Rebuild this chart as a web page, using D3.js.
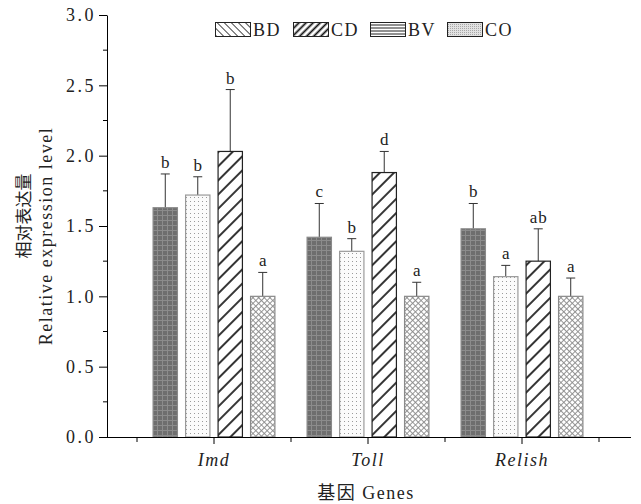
<!DOCTYPE html>
<html>
<head>
<meta charset="utf-8">
<script src="https://cdn.jsdelivr.net/npm/d3@7"></script>
<style>
  body { margin: 0; background: #fff; }
  text { font-family: "Liberation Serif", "DejaVu Serif", serif; fill: #222; }
</style>
</head>
<body>
<div id="chart"></div>
<script>
// data
var genes = ['Imd', 'Toll', 'Relish'];
var series = ['BD', 'CD', 'BV', 'CO'];
var means = [
  [1.63, 1.72, 2.03, 1.00],
  [1.42, 1.32, 1.88, 1.00],
  [1.48, 1.14, 1.25, 1.00]
];
var errs = [
  [0.24, 0.13, 0.44, 0.17],
  [0.24, 0.09, 0.15, 0.10],
  [0.18, 0.08, 0.23, 0.13]
];
var letters = [
  ['b', 'b', 'b', 'a'],
  ['c', 'b', 'd', 'a'],
  ['b', 'a', 'ab', 'a']
];
var yTicks = [0, 0.5, 1.0, 1.5, 2.0, 2.5, 3.0];

var W = 641, H = 504;
var margin = { top: 15, left: 107, right: 9, bottom: 67 };
var serif = '"Liberation Serif", "DejaVu Serif", serif';
var cjk = '"Noto Sans CJK SC", sans-serif';

var svg = d3.select('#chart').append('svg')
    .attr('width', W)
    .attr('height', H);

// ---------- patterns ----------
var defs = svg.append('defs');

function pat(id, w, h, transform) {
    var p = defs.append('pattern')
        .attr('id', id)
        .attr('patternUnits', 'userSpaceOnUse')
        .attr('width', w)
        .attr('height', h);
    if (transform) p.attr('patternTransform', transform);
    return p;
}

// bar pattern 1: dark grey with fine grid
var p1 = pat('bar1', 5, 5);
p1.append('rect').attr('width', 5).attr('height', 5).attr('fill', '#6e6e6e');
p1.append('path').attr('d', 'M0,0.5H5M0.5,0V5').attr('stroke', '#8c8c8c').attr('stroke-width', 1);

// bar pattern 2: light dots
var p2 = pat('bar2', 4, 4);
p2.append('rect').attr('width', 4).attr('height', 4).attr('fill', '#fbfbfb');
p2.append('rect').attr('x', 1).attr('y', 1).attr('width', 1).attr('height', 1).attr('fill', '#9a9a9a');

// bar pattern 3: thick diagonal lines
var p3 = pat('bar3', 10, 10, 'rotate(45)');
p3.append('rect').attr('width', 10).attr('height', 10).attr('fill', '#fff');
p3.append('line').attr('x1', 5).attr('x2', 5).attr('y1', 0).attr('y2', 10)
    .attr('stroke', '#111').attr('stroke-width', 1.7);

// bar pattern 4: light cross hatch
var p4 = pat('bar4', 4, 4, 'rotate(45)');
p4.append('rect').attr('width', 4).attr('height', 4).attr('fill', '#fff');
p4.append('path').attr('d', 'M0,0.5H4M0.5,0V4').attr('stroke', '#8a8a8a').attr('stroke-width', 0.9);

// legend patterns
var l1 = pat('leg1', 5, 5, 'rotate(-45)');
l1.append('rect').attr('width', 5).attr('height', 5).attr('fill', '#fff');
l1.append('line').attr('x1', 2.5).attr('x2', 2.5).attr('y1', 0).attr('y2', 5)
    .attr('stroke', '#333').attr('stroke-width', 0.9);

var l2 = pat('leg2', 5, 5, 'rotate(45)');
l2.append('rect').attr('width', 5).attr('height', 5).attr('fill', '#fff');
l2.append('line').attr('x1', 2.5).attr('x2', 2.5).attr('y1', 0).attr('y2', 5)
    .attr('stroke', '#111').attr('stroke-width', 1.8);

var l3 = pat('leg3', 4, 3);
l3.append('rect').attr('width', 4).attr('height', 3).attr('fill', '#fff');
l3.append('line').attr('x1', 0).attr('x2', 4).attr('y1', 1).attr('y2', 1)
    .attr('stroke', '#222').attr('stroke-width', 1);

var l4 = pat('leg4', 2, 2);
l4.append('rect').attr('width', 2).attr('height', 2).attr('fill', '#e2e2e2');
l4.append('rect').attr('width', 1).attr('height', 1).attr('fill', '#a8a8a8');

var barFill = ['url(#bar1)', 'url(#bar2)', 'url(#bar3)', 'url(#bar4)'];
var barStroke = ['#8a8a8a', '#9a9a9a', '#222', '#8a8a8a'];
var legFill = ['url(#leg1)', 'url(#leg2)', 'url(#leg3)', 'url(#leg4)'];

// ---------- scales ----------
var y = d3.scaleLinear().domain([0, 3]).range([H - margin.bottom, margin.top]);
var x0 = d3.scaleBand().domain(genes).range([137, 599]);
var x1 = d3.scaleBand().domain(series).range([0, x0.bandwidth()])
    .paddingInner(0.22).paddingOuter(0.48);

var xEnd = W - margin.right - 1;

// ---------- bars ----------
var groups = svg.selectAll('.grp')
    .data(genes)
    .enter().append('g')
    .attr('class', 'grp')
    .attr('transform', function (d) { return 'translate(' + x0(d) + ',0)'; });

groups.each(function (g, gi) {
    var grp = d3.select(this);
    series.forEach(function (s, si) {
        var v = means[gi][si], e = errs[gi][si];
        var bx = x1(s), bw = x1.bandwidth();
        var cx = bx + bw / 2;

        // error bar (upper only)
        grp.append('line')
            .attr('x1', cx).attr('x2', cx)
            .attr('y1', y(v)).attr('y2', y(v + e))
            .attr('stroke', '#333').attr('stroke-width', 1);
        grp.append('line')
            .attr('x1', cx - 4.5).attr('x2', cx + 4.5)
            .attr('y1', y(v + e)).attr('y2', y(v + e))
            .attr('stroke', '#333').attr('stroke-width', 1);

        grp.append('rect')
            .attr('x', bx + 0.5)
            .attr('y', y(v))
            .attr('width', bw - 1)
            .attr('height', y(0) - y(v))
            .attr('fill', barFill[si])
            .attr('stroke', barStroke[si])
            .attr('stroke-width', 1.2);

        grp.append('text')
            .attr('x', cx + 0.5)
            .attr('y', y(v + e) - 6)
            .attr('text-anchor', 'middle')
            .style('font-size', '17px')
            .style('letter-spacing', '1px')
            .text(letters[gi][si]);
    });
});

// ---------- axes ----------
var yAxis = svg.append('g')
    .attr('transform', 'translate(' + margin.left + ',0)')
    .call(d3.axisLeft(y).tickValues(yTicks).tickFormat(d3.format('.1f'))
        .tickSize(8).tickSizeOuter(0).tickPadding(3));
yAxis.selectAll('text')
    .style('font-family', serif)
    .style('font-size', '18px')
    .style('letter-spacing', '2.5px')
    .style('fill', '#222');

// minor y ticks
svg.append('g').selectAll('line')
    .data([0.25, 0.75, 1.25, 1.75, 2.25, 2.75])
    .enter().append('line')
    .attr('x1', margin.left - 4).attr('x2', margin.left)
    .attr('y1', function (d) { return y(d); })
    .attr('y2', function (d) { return y(d); })
    .attr('stroke', '#000');

var xAxis = svg.append('g')
    .attr('transform', 'translate(0,' + y(0) + ')')
    .call(d3.axisBottom(x0).tickSize(7).tickSizeOuter(0).tickPadding(9));
xAxis.select('.domain').attr('d', 'M' + margin.left + ',0.5H' + xEnd);
xAxis.selectAll('text')
    .style('font-family', serif)
    .style('font-size', '18px')
    .style('font-style', 'italic')
    .style('letter-spacing', '1.5px')
    .style('fill', '#222');

// minor x ticks at group boundaries
svg.append('g').selectAll('line')
    .data(genes.concat(['end']))
    .enter().append('line')
    .attr('x1', function (d, i) { return 137 + i * x0.step(); })
    .attr('x2', function (d, i) { return 137 + i * x0.step(); })
    .attr('y1', y(0)).attr('y2', y(0) + 5)
    .attr('stroke', '#000');

// ---------- axis titles ----------
svg.append('text')
    .attr('transform', 'translate(30,216) rotate(-90)')
    .attr('text-anchor', 'middle')
    .style('font-family', cjk)
    .style('font-size', '17px')
    .text('相对表达量');

svg.append('text')
    .attr('transform', 'translate(52,236) rotate(-90)')
    .attr('text-anchor', 'middle')
    .style('font-size', '18px')
    .style('letter-spacing', '1.5px')
    .text('Relative expression level');

var xt = svg.append('text')
    .attr('x', 366)
    .attr('y', 499)
    .attr('text-anchor', 'middle')
    .style('font-size', '18px')
    .style('letter-spacing', '1.5px');
xt.append('tspan').style('font-family', cjk).text('基因');
xt.append('tspan').text(' Genes');

// ---------- legend ----------
var legX = [215, 293, 370, 447];
var legend = svg.append('g');
series.forEach(function (s, i) {
    legend.append('rect')
        .attr('x', legX[i] + 0.5).attr('y', 22.5)
        .attr('width', 35).attr('height', 14)
        .attr('fill', legFill[i])
        .attr('stroke', '#222').attr('stroke-width', 1);
    legend.append('text')
        .attr('x', legX[i] + 38).attr('y', 36)
        .style('font-size', '18px')
        .style('letter-spacing', '1.5px')
        .text(s);
});
</script>
</body>
</html>
